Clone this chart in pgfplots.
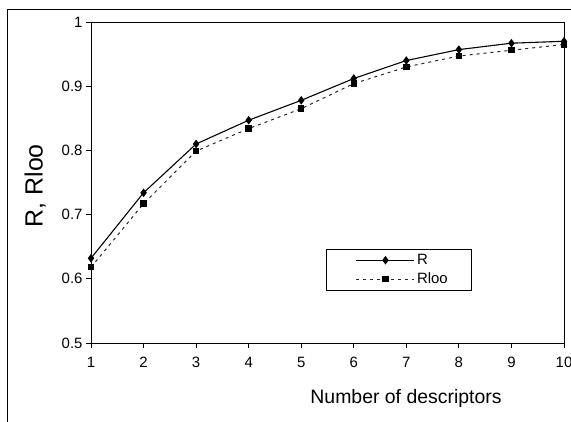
\documentclass[border=0pt]{standalone}
\usepackage{pgfplots}
\pgfplotsset{compat=1.18}
\usepackage{fontspec}
\setmainfont{Liberation Sans}
\begin{document}
\begin{tikzpicture}[x=1bp,y=1bp]
\path[use as bounding box] (0,0) rectangle (571,421);
\begin{scope}
\clip (0,0) rectangle (571,421);
\draw[line width=1bp] (7,-5) -- (7,411) -- (580,411);
\end{scope}
\begin{axis}[
  at={(91bp,78bp)}, anchor=south west,
  scale only axis, width=473bp, height=321bp,
  xmin=1, xmax=10, ymin=0.5, ymax=1,
  xtick={1,...,10}, ytick={0.5,0.6,0.7,0.8,0.9,1},
  yticklabels={0.5,0.6,0.7,0.8,0.9,1},
  xtick pos=left, ytick pos=left, tick align=outside,
  major tick length=5bp,
  axis line style={line width=1bp},
  every tick/.style={black, line width=0.8bp},
  /pgf/number format/assume math mode=true,
  ticklabel style={font=\fontsize{15}{17}\selectfont},
  xticklabel style={yshift=-6bp},
  xlabel={Number of descriptors},
  xlabel style={at={(axis description cs:0.666,0)}, anchor=center, yshift=-55bp, font=\fontsize{19.5}{22}\selectfont},
  ylabel={R, Rloo},
  ylabel style={at={(axis description cs:-0.118,0.49)}, anchor=center, font=\fontsize{25}{28}\selectfont},
  legend style={at={(axis description cs:0.497,0.293)}, anchor=north west, draw=black, line width=0.8bp,
    font=\fontsize{15}{17}\selectfont, inner xsep=2bp, inner ysep=3bp, row sep=3bp, cells={anchor=west}},
  legend image code/.code={\path[draw=none,fill=none] (0bp,-1bp) rectangle (1bp,1bp); \draw[#1] (28bp,0bp) -- (86bp,0bp); \draw[#1, solid] plot coordinates {(57bp,0bp)};},
  legend cell align=left,
  clip=false,
]
\addplot[black, line width=1.1bp, mark=diamond*, mark size=3.4bp, mark options={solid, fill=black}]
  coordinates {(1,0.632)(2,0.734)(3,0.810)(4,0.847)(5,0.878)(6,0.912)(7,0.940)(8,0.957)(9,0.967)(10,0.970)};
\addlegendentry{R}
\addplot[black!85, line width=1bp, dash pattern=on 3bp off 4bp, mark=square*, mark size=2.7bp, mark options={solid, fill=black, draw=black}]
  coordinates {(1,0.618)(2,0.717)(3,0.799)(4,0.834)(5,0.865)(6,0.904)(7,0.930)(8,0.947)(9,0.956)(10,0.965)};
\addlegendentry{Rloo\hspace*{20bp}}
\end{axis}
\end{tikzpicture}
\end{document}
